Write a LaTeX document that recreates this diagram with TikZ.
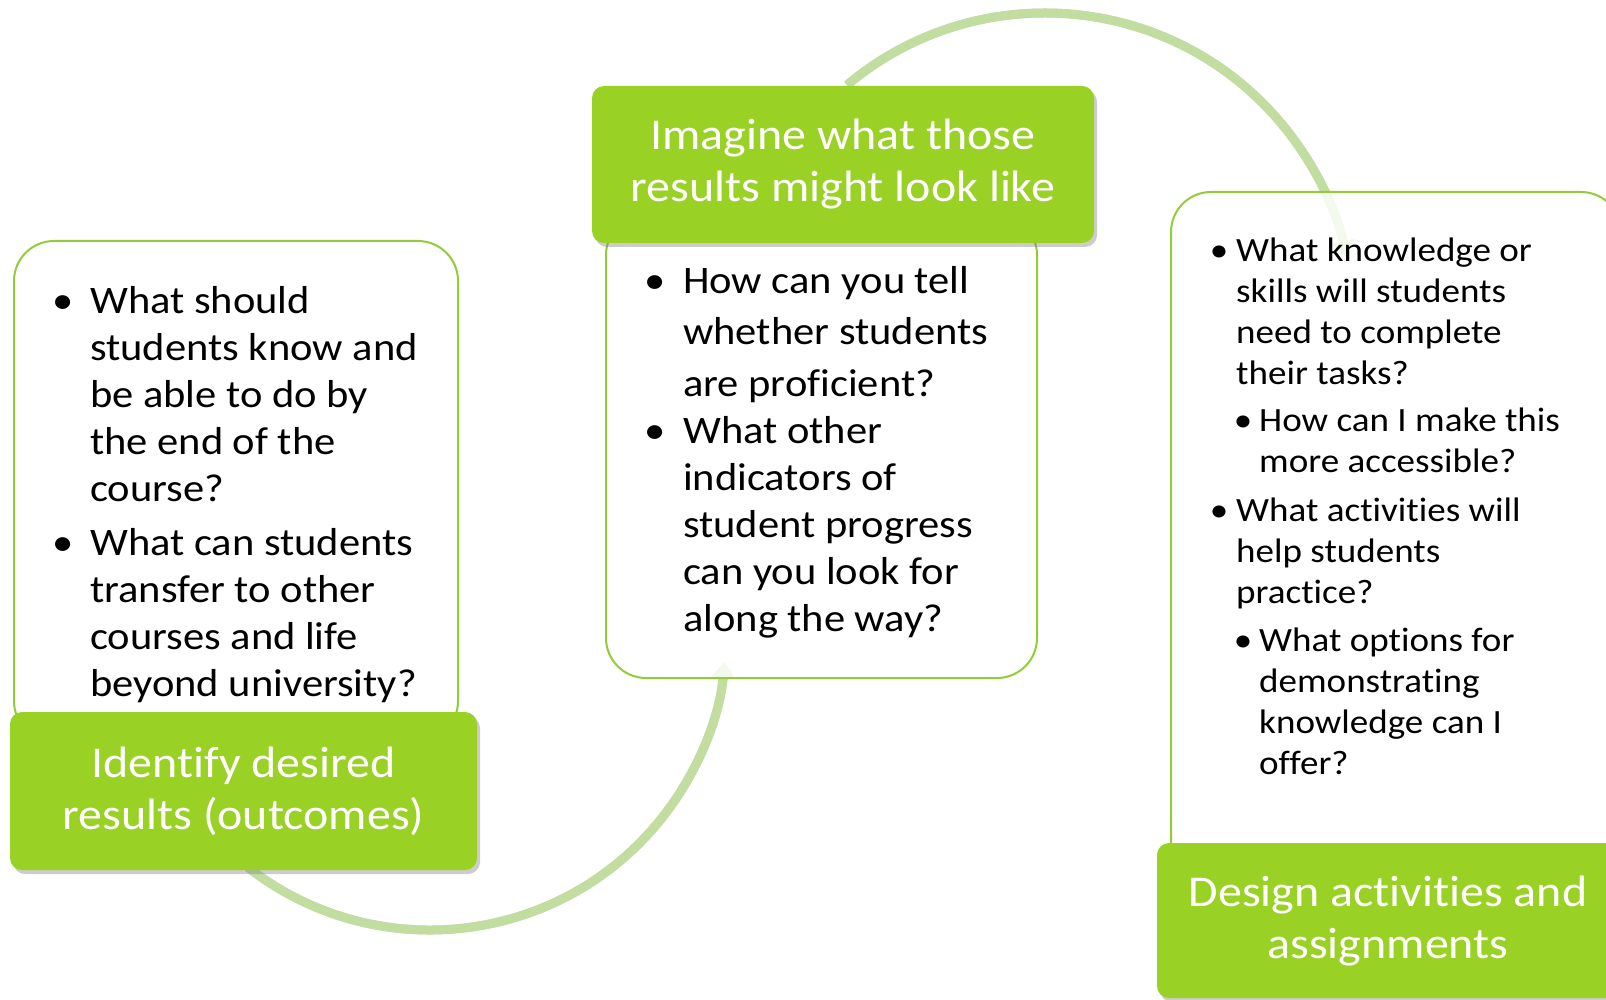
\documentclass[tikz,border=0pt]{standalone}
\usepackage{fontspec}
\setmainfont{Carlito}[FakeStretch=1.09,Ligatures=NoCommon]
\usetikzlibrary{arrows.meta,shadows}
\definecolor{stagegreen}{RGB}{153,209,36}
\definecolor{edgegreen}{RGB}{146,205,55}
\definecolor{arcgreen}{RGB}{193,222,160}
\newcommand\bulletat[1]{\llap{\makebox[#1]{•}}}
\begin{document}
\begin{tikzpicture}[x=1pt,y=-1pt,line join=round,
	stage/.style={fill=stagegreen,rounded corners=12pt,text=white,align=center,inner sep=0pt,font=\fontsize{44}{52}\selectfont,drop shadow={shadow xshift=3pt,shadow yshift=-4pt,opacity=.4}},
	qbox/.style={draw=edgegreen,line width=2pt,fill=white,fill opacity=.82,rounded corners=40pt,inner sep=0pt},
	qtext/.style={anchor=north west,align=left,inner sep=0pt},
	cyclearc/.style={draw=arcgreen,line width=9pt,-{Triangle[width=22pt,length=16pt]}},
	arcshade/.style={cyclearc,draw=black,opacity=.16,shift={(2.5,3.5)}}]
	\useasboundingbox (0,0) rectangle (1606,1000);
	\clip (0,0) rectangle (1606,1000);
	\coordinate (o1) at (430,634);
	\coordinate (o2) at (1045,321);
	\draw[arcshade] (o1) ++(128:296) arc[start angle=128,end angle=5.4,radius=296];
	\draw[cyclearc] (o1) ++(128:296) arc[start angle=128,end angle=5.4,radius=296];
	\draw[arcshade] (o2) ++(230:308) arc[start angle=230,end angle=348,radius=308];
	\draw[cyclearc] (o2) ++(230:308) arc[start angle=230,end angle=348,radius=308];
	\node[qbox,minimum width=444pt,minimum height=500pt] (q1) at (236,491) {};
	\node[qbox,minimum width=431pt,minimum height=463pt] (q2) at (821.5,446.5) {};
	\node[qbox,minimum width=450pt,minimum height=688pt] (q3) at (1396,536) {};
	\node[stage,minimum width=467pt,minimum height=158pt] (s1) at (243.5,791) {Identify desired\\results (outcomes)};
	\node[stage,minimum width=502pt,minimum height=157pt] (s2) at (843,164.5) {Imagine what those\\results might look like};
	\node[stage,minimum width=462pt,minimum height=155pt] (s3) at (1388,920.5) {Design activities and\\assignments};
	\node[qtext,font=\fontsize{39}{47}\selectfont] (t1) at (90,280.1) {\bulletat{54pt}\strut What should\\students know and\\be able to do by\\the end of the\\course?\\[7pt]\bulletat{54pt}What can students\\transfer to other\\courses and life\\beyond university?};
	\node[qtext,font=\fontsize{39}{47}\selectfont] (t2) at (683,260.1) {\bulletat{56pt}\strut How can you tell\\[4.5pt]whether students\\[4.5pt]are proficient?\\\bulletat{56pt}What other\\indicators of\\student progress\\can you look for\\along the way?};
	\node[qtext,font=\fontsize{34}{41}\selectfont] (t3) at (1236,232.9) {\bulletat{34pt}\strut What knowledge or\\skills will students\\need to complete\\their tasks?\\[6pt]\hspace*{23pt}\bulletat{32pt}How can I make this\\\hspace*{23pt}more accessible?\\[8pt]\bulletat{34pt}What activities will\\help students\\practice?\\[7pt]\hspace*{23pt}\bulletat{32pt}What options for\\\hspace*{23pt}demonstrating\\\hspace*{23pt}knowledge can I\\\hspace*{23pt}offer?};
\end{tikzpicture}
\end{document}
